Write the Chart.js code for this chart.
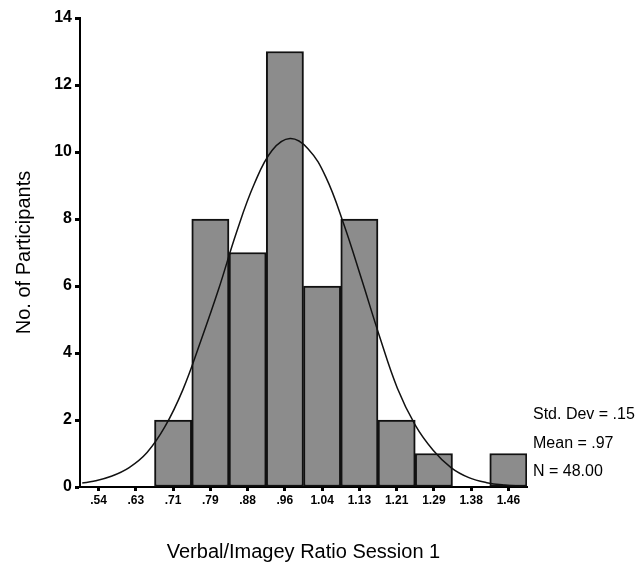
<!DOCTYPE html>
<html>
<head>
<meta charset="utf-8">
<script src="https://cdn.jsdelivr.net/npm/chart.js@4/dist/chart.umd.min.js"></script>
<style>
  html, body { margin: 0; padding: 0; background: #fff; }
  canvas { display: block; }
</style>
</head>
<body>
<canvas id="histChart" width="639" height="564"></canvas>
<script>
// bin labels (bin width 1/12 from .5 to 1.5)
const binLabels = ['.54', '.63', '.71', '.79', '.88', '.96', '1.04', '1.13', '1.21', '1.29', '1.38', '1.46'];
const binCounts = [0, 0, 2, 8, 7, 13, 6, 8, 2, 1, 0, 1];

// normal curve (x in ratio units, y in participants)
const curveX = [0.505, 0.53, 0.57, 0.61, 0.65, 0.69, 0.73, 0.77, 0.81, 0.85, 0.89, 0.93, 0.97, 1.01, 1.05, 1.09, 1.13, 1.17, 1.21, 1.25, 1.29, 1.33, 1.37, 1.41, 1.45, 1.49];
const curveY = [0.12, 0.17, 0.32, 0.58, 1.03, 1.8, 2.9, 4.35, 5.9, 7.6, 9.05, 10.05, 10.4, 10.1, 9.25, 7.85, 6.2, 4.5, 2.95, 1.85, 1.1, 0.58, 0.28, 0.13, 0.06, 0.03];

const statLines = ['Std. Dev = .15', 'Mean = .97', 'N = 48.00'];
const yTicks = [0, 2, 4, 6, 8, 10, 12, 14];

const fontFamily = '"Liberation Sans", Arial, sans-serif';

const statsPlugin = {
  id: 'stats',
  afterDraw(chart) {
    const ctx = chart.ctx;
    ctx.save();
    ctx.fillStyle = '#000';
    ctx.font = '16px ' + fontFamily;
    ctx.textBaseline = 'middle';
    ctx.textAlign = 'left';
    statLines.forEach((t, i) => {
      ctx.fillText(t, 533, 415 + i * 28.5);
    });
    ctx.restore();
  }
};

const ctx = document.getElementById('histChart').getContext('2d');

new Chart(ctx, {
  type: 'bar',
  data: {
    labels: binLabels,
    datasets: [
      {
        type: 'bar',
        data: binCounts,
        xAxisID: 'x',
        yAxisID: 'y',
        backgroundColor: '#8c8c8c',
        borderColor: '#111',
        borderWidth: 2,
        borderSkipped: false,
        grouped: false,
        barPercentage: 1,
        categoryPercentage: 1,
        order: 1
      },
      {
        type: 'line',
        data: curveX.map((x, i) => ({ x: x, y: curveY[i] })),
        xAxisID: 'xc',
        yAxisID: 'y',
        borderColor: '#111',
        borderWidth: 1.5,
        pointRadius: 0,
        tension: 0.4,
        fill: false,
        order: 0
      }
    ]
  },
  options: {
    responsive: false,
    animation: false,
    layout: { padding: { top: 18, right: 112, bottom: 0, left: 0 } },
    plugins: {
      legend: { display: false },
      tooltip: { enabled: false }
    },
    scales: {
      x: {
        type: 'category',
        offset: true,
        grid: {
          offset: false,
          drawOnChartArea: false,
          drawTicks: true,
          tickLength: 4,
          tickWidth: 3,
          tickColor: '#000'
        },
        border: { color: '#000', width: 2 },
        ticks: {
          color: '#000',
          padding: 2,
          maxRotation: 0,
          font: { family: fontFamily, size: 12, weight: 'bold' }
        },
        title: {
          display: true,
          text: 'Verbal/Imagey Ratio Session 1',
          color: '#000',
          font: { family: fontFamily, size: 20 },
          padding: { top: 24, bottom: 0 }
        },
        afterFit(scale) { scale.height = 77; }
      },
      xc: {
        type: 'linear',
        display: false,
        offset: false,
        grid: { offset: false },
        min: 0.5,
        max: 1.5
      },
      y: {
        min: 0,
        max: 14,
        afterBuildTicks(scale) { scale.ticks = yTicks.map(v => ({ value: v })); },
        grid: {
          drawOnChartArea: false,
          drawTicks: true,
          tickLength: 5,
          tickWidth: 3,
          tickColor: '#000'
        },
        border: { color: '#000', width: 2 },
        ticks: {
          color: '#000',
          padding: 3,
          font: { family: fontFamily, size: 16, weight: 'bold' }
        },
        title: {
          display: true,
          text: 'No. of Participants',
          color: '#000',
          font: { family: fontFamily, size: 20 },
          padding: { top: 12, bottom: 0 }
        },
        afterFit(scale) { scale.width = 80; }
      }
    }
  },
  plugins: [statsPlugin]
});
</script>
</body>
</html>
